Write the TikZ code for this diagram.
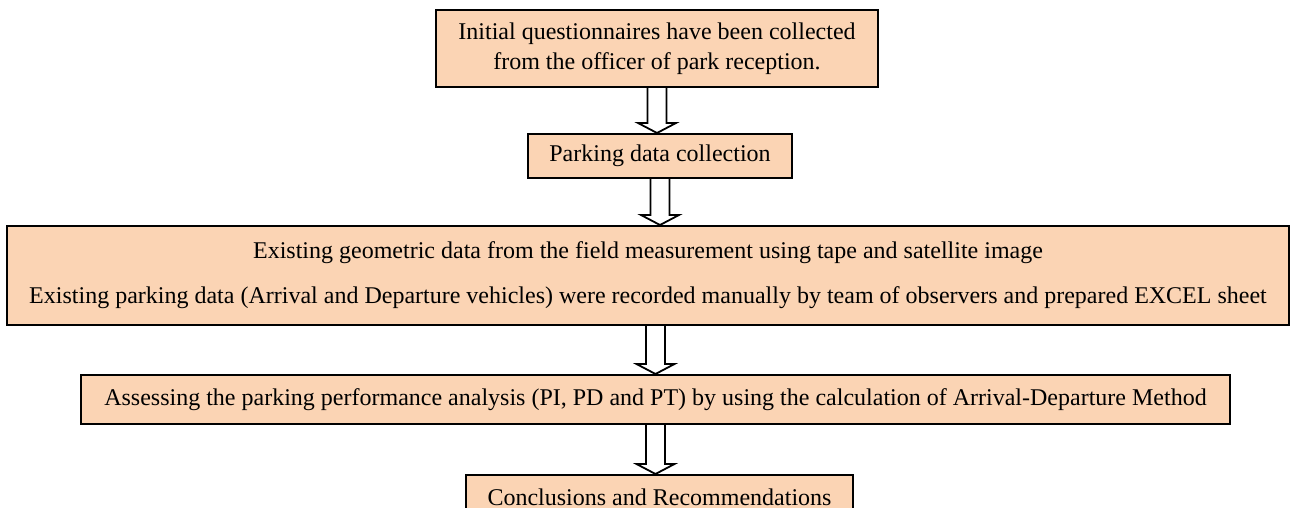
\documentclass[tikz,border=0pt]{standalone}
\usepackage{fontspec}
\setmainfont{Liberation Serif}
\usetikzlibrary{positioning,calc,backgrounds}
\definecolor{StepFill}{HTML}{FBD4B4}

\begin{document}
\begin{tikzpicture}[
  x=1pt, y=1pt,
  node distance=45pt,
  box/.style={rectangle, draw=black, line width=2pt, fill=StepFill, inner sep=0pt,
              align=center, font=\fontsize{24}{30}\selectfont},
  blockarrow/.style={draw=black, line width=1.8pt, fill=white,
    to path={let \p1=(\tikztostart), \p2=(\tikztotarget) in
      (\x1-9.5pt,\y1) -- (\x1-9.5pt,\y2+10pt) -- (\x1-19pt,\y2+10pt) -- (\x1,\y2)
      -- (\x1+19pt,\y2+10pt) -- (\x1+9.5pt,\y2+10pt) -- (\x1+9.5pt,\y1) \tikztonodes}}
]
\useasboundingbox (0,0) rectangle (1293,-508);

\node[box, minimum width=442pt, minimum height=77pt] (quest) at (657,-48.5)
  {Initial questionnaires have been collected\\from the officer of park reception.};
\node[box, minimum width=264pt, minimum height=44pt, below=45pt of quest, xshift=3pt] (collect)
  {Parking data collection};
\node[box, minimum width=1282pt, minimum height=99pt, below=46pt of collect, xshift=-12pt] (field)
  {Existing geometric data from the field measurement using tape and satellite image\\[15pt]
   Existing parking data (Arrival and Departure vehicles) were recorded manually by team of observers and prepared EXCEL sheet};
\node[box, minimum width=1149pt, minimum height=49pt, below=48pt of field, xshift=7.5pt] (assess)
  {Assessing the parking performance analysis (PI, PD and PT) by using the calculation of Arrival-Departure Method};
\node[box, minimum width=387pt, minimum height=44pt, below=49pt of assess, xshift=4pt] (concl)
  {Conclusions and Recommendations};

% hollow block arrows between the steps
\begin{scope}[on background layer]
\draw[blockarrow] (quest.south) to (collect.north);
\draw[blockarrow] (collect.south) to (field.north);
\draw[blockarrow] (field.south -| assess.north) to (assess.north);
\draw[blockarrow] (assess.south) to (concl.north);
\end{scope}
\end{tikzpicture}
\end{document}
